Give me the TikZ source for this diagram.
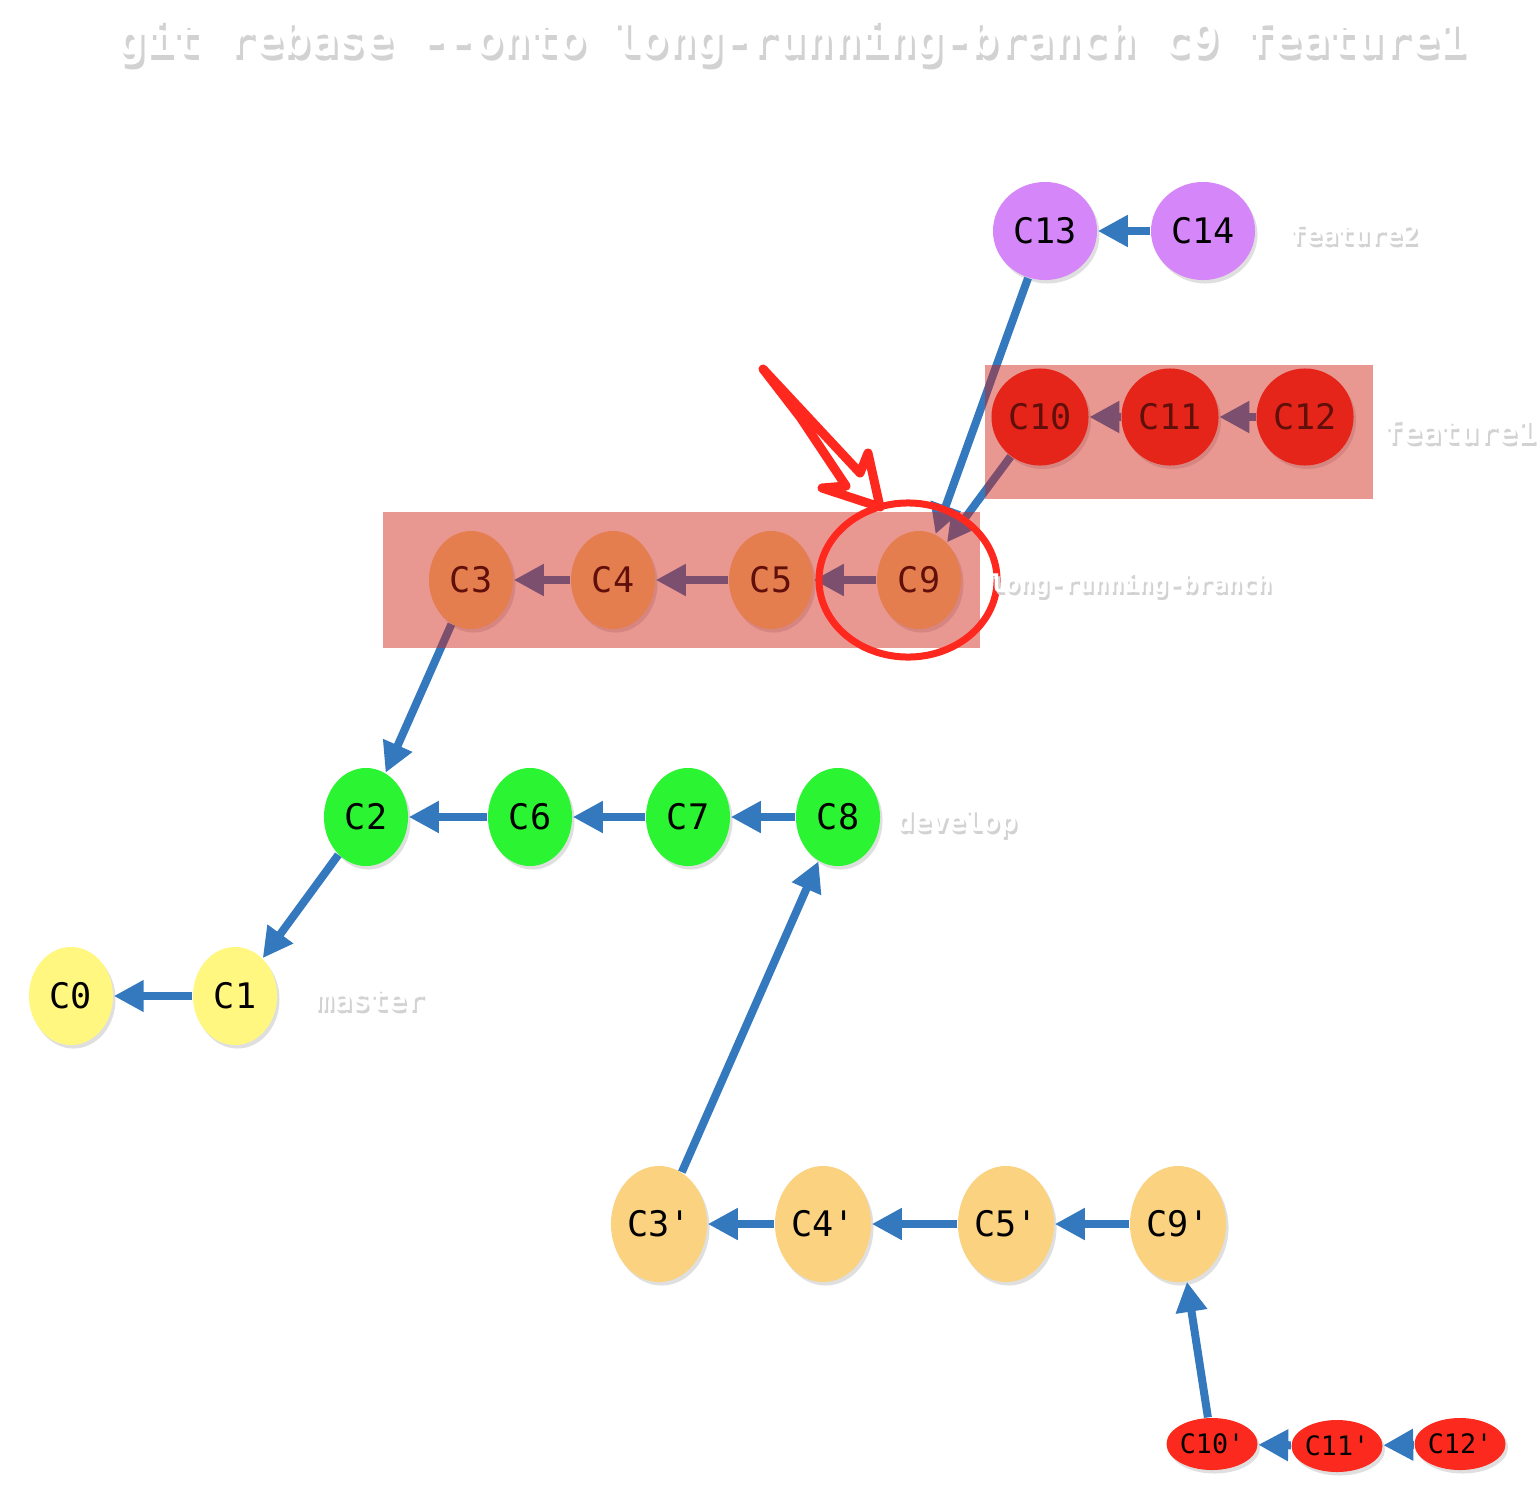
\documentclass[tikz,border=0pt]{standalone}
\usepackage{fontspec}
\usetikzlibrary{arrows.meta,shapes.geometric,shadows}
\newfontfamily\monofont{DejaVu Sans Mono}
\newfontfamily\monobold{DejaVu Sans Mono Bold}
\definecolor{edgeblue}{RGB}{52,120,190}
\definecolor{cyellow}{RGB}{255,247,128}
\definecolor{cgreen}{RGB}{43,245,50}
\definecolor{corange}{RGB}{251,210,128}
\definecolor{cpurple}{RGB}{213,134,248}
\definecolor{cred}{RGB}{252,42,30}
\definecolor{overlayred}{RGB}{206,33,22}
\definecolor{annotred}{RGB}{255,40,30}
\tikzset{
  commit/.style={ellipse, inner sep=0pt, text=black,
    font=\monofont\fontsize{10}{12}\selectfont,
    drop shadow={shadow xshift=0.025cm, shadow yshift=-0.035cm, opacity=0.25}},
  smallc/.style={commit, minimum width=0.84cm, minimum height=0.98cm},
  primec/.style={commit, minimum width=0.96cm, minimum height=1.16cm},
  roundc/.style={commit, minimum width=0.97cm, minimum height=0.97cm},
  purplec/.style={commit, fill=cpurple, minimum width=1.04cm, minimum height=0.98cm},
  tinyc/.style={commit, fill=cred, minimum width=0.90cm, minimum height=0.52cm,
    font=\monofont\fontsize{7.6}{9}\selectfont},
  link/.style={draw=edgeblue, line width=0.08cm,
    -{Triangle[length=0.3cm,width=0.3cm]}},
  overlay box/.style={fill=overlayred, fill opacity=0.47, draw=none},
  lblshadow/.style={text=gray!35, inner sep=0pt},
  lbltext/.style={text=white, inner sep=0pt},
}
\begin{document}
\begin{tikzpicture}[x=0.01cm,y=-0.01cm]
\useasboundingbox (0,0) rectangle (1540,1491);

% yellow / green
\node[smallc, fill=cyellow] (c0) at (71,996) {C0};
\node[smallc, fill=cyellow] (c1) at (235,996) {C1};
\node[smallc, fill=cgreen] (c2) at (366,817) {C2};
\node[smallc, fill=cgreen] (c6) at (530,817) {C6};
\node[smallc, fill=cgreen] (c7) at (688,817) {C7};
\node[smallc, fill=cgreen] (c8) at (838,817) {C8};
% long-running-branch
\node[smallc, fill=corange] (c3) at (471,580) {C3};
\node[smallc, fill=corange] (c4) at (613,580) {C4};
\node[smallc, fill=corange] (c5) at (771,580) {C5};
\node[smallc, fill=corange] (c9) at (919,580) {C9};
% feature2
\node[purplec] (c13) at (1045,231) {C13};
\node[purplec] (c14) at (1203,231) {C14};
% feature1
\node[roundc, fill=cred] (c10) at (1040,417) {C10};
\node[roundc, fill=cred] (c11) at (1170,417) {C11};
\node[roundc, fill=cred] (c12) at (1305,417) {C12};
% rebased
\node[primec, fill=corange] (c3p) at (659,1224) {C3'};
\node[primec, fill=corange] (c4p) at (823,1224) {C4'};
\node[primec, fill=corange] (c5p) at (1006,1224) {C5'};
\node[primec, fill=corange] (c9p) at (1178,1224) {C9'};
\node[tinyc] (c10p) at (1212,1444) {C10'};
\node[tinyc] (c11p) at (1337,1446) {C11'};
\node[tinyc] (c12p) at (1460,1444) {C12'};

% edges
\draw[link] (c1) -- (c0);
\draw[link] (c2) -- (c1);
\draw[link] (c3) -- (c2);
\draw[link] (c6) -- (c2);
\draw[link] (c7) -- (c6);
\draw[link] (c8) -- (c7);
\draw[link] (c4) -- (c3);
\draw[link] (c5) -- (c4);
\draw[link] (c9) -- (c5);
\draw[link] (c14) -- (c13);
\draw[link] (c13) -- (c9);
\draw[link] (c10) -- (c9);
\draw[link] (c11) -- (c10);
\draw[link] (c12) -- (c11);
\draw[link] (c3p) -- (c8);
\draw[link] (c4p) -- (c3p);
\draw[link] (c5p) -- (c4p);
\draw[link] (c9p) -- (c5p);
\draw[link] (c10p) -- (c9p);
\draw[link] (c11p) -- (c10p);
\draw[link] (c12p) -- (c11p);

% translucent highlight boxes
\fill[overlay box] (383,512) rectangle (980,648);
\fill[overlay box] (985,365) rectangle (1373,499);

% annotation
\draw[annotred, line width=0.07cm] (908,580) ellipse [x radius=0.89cm, y radius=0.77cm];
\coordinate (a0) at (763,369);
\coordinate (a1) at (800,417);
\coordinate (a2) at (846,486);
\coordinate (a3) at (822,488);
\coordinate (a4) at (880,507);
\coordinate (a5) at (868,453);
\coordinate (a6) at (860,473);
\draw[annotred, line width=0.09cm, line cap=round, line join=round]
  (a2) -- (a1) -- (a0) -- (a6) -- (a5) -- (a4) -- (a3) -- (a2);

% labels (white with shadow)
\node[lblshadow, font=\monobold\fontsize{13}{15}\selectfont] (titles) at (795,47) {git rebase --onto long-running-branch c9 feature1};
\node[lbltext, font=\monobold\fontsize{13}{15}\selectfont] (title) at (792,42) {git rebase --onto long-running-branch c9 feature1};

\node[lblshadow, font=\monobold\fontsize{7.6}{9}\selectfont] (f2s) at (1356,238) {feature2};
\node[lbltext, font=\monobold\fontsize{7.6}{9}\selectfont] (f2) at (1354,235) {feature2};

\node[lblshadow, font=\monobold\fontsize{9}{11}\selectfont] (f1s) at (1462,435) {feature1};
\node[lbltext, font=\monobold\fontsize{9}{11}\selectfont] (f1) at (1460,432) {feature1};

\node[lblshadow, font=\monobold\fontsize{7}{9}\selectfont] (lrbs) at (1133,588) {long-running-branch};
\node[lbltext, font=\monobold\fontsize{7}{9}\selectfont] (lrb) at (1131,585) {long-running-branch};

\node[lblshadow, font=\monobold\fontsize{8.1}{10}\selectfont] (devs) at (959,827) {develop};
\node[lbltext, font=\monobold\fontsize{8.1}{10}\selectfont] (dev) at (957,824) {develop};

\node[lblshadow, font=\monobold\fontsize{8.6}{10}\selectfont] (mass) at (372,1003) {master};
\node[lbltext, font=\monobold\fontsize{8.6}{10}\selectfont] (mas) at (370,1000) {master};
\end{tikzpicture}
\end{document}
